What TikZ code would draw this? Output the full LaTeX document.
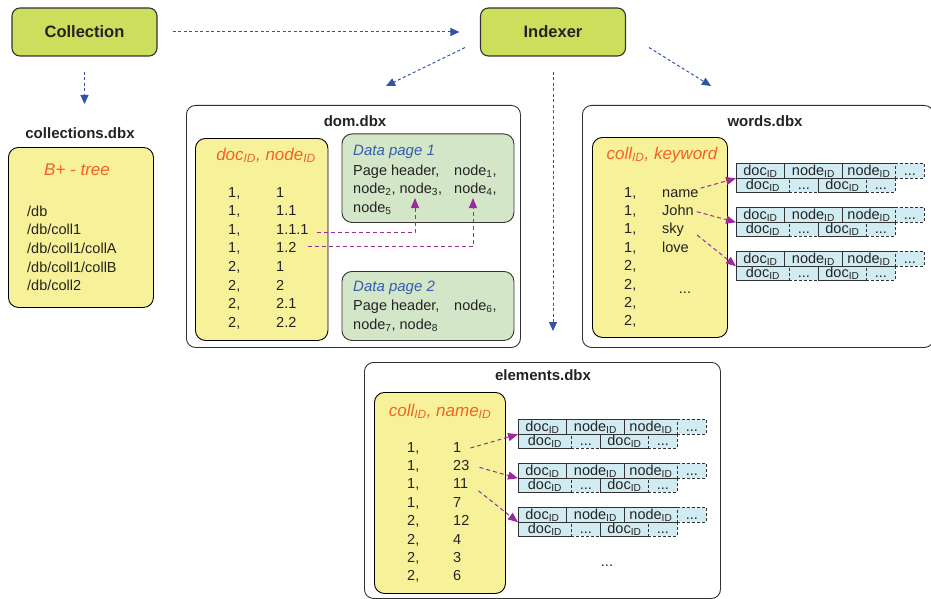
\documentclass[tikz,border=0pt]{standalone}
\usepackage{fontspec}
\setmainfont{Liberation Sans}
\usetikzlibrary{arrows.meta,calc}

\definecolor{lime}{RGB}{205,221,92}
\definecolor{lemon}{RGB}{247,242,153}
\definecolor{mint}{RGB}{211,231,200}
\definecolor{icecyan}{RGB}{208,235,242}
\definecolor{flowblue}{RGB}{52,82,168}
\definecolor{plum}{RGB}{155,42,155}
\definecolor{keyorange}{RGB}{242,98,40}
\definecolor{pageblue}{RGB}{52,92,178}
\definecolor{ink}{RGB}{35,35,35}
\definecolor{edgegray}{RGB}{50,50,50}

\newcommand\subtext[1]{\textsubscript{#1}}

\tikzset{
  topbox/.style={draw=edgegray, fill=lime, rounded corners=8pt, line width=1.1pt,
    minimum width=145pt, minimum height=48pt, text=ink,
    font=\fontsize{16.5}{20}\selectfont\bfseries},
  outerbox/.style={draw=edgegray, fill=white, rounded corners=9pt, line width=0.9pt,
    anchor=north west, inner sep=0pt},
  indexbox/.style={draw=black, fill=lemon, rounded corners=10pt, line width=0.9pt,
    anchor=north west, inner sep=0pt},
  pagebox/.style={draw=edgegray, fill=mint, rounded corners=10pt, line width=0.9pt,
    anchor=north west, inner sep=0pt},
  filetitle/.style={anchor=base, inner sep=0pt, text=ink,
    font=\fontsize{15}{18}\selectfont\bfseries},
  keyhead/.style={anchor=base, inner sep=0pt, text=keyorange,
    font=\fontsize{17}{20}\selectfont\itshape},
  pagehead/.style={anchor=base west, inner sep=0pt, text=pageblue,
    font=\fontsize{15}{18}\selectfont\itshape},
  body/.style={anchor=base west, inner sep=0pt, text=ink,
    font=\fontsize{14.5}{18}\selectfont},
  cell/.style={draw=edgegray, fill=icecyan, line width=0.8pt, anchor=north west,
    inner sep=0pt, minimum height=14.5pt, text height=11pt, text depth=2pt,
    text=ink, font=\fontsize{14.5}{15}\selectfont},
  dcell/.style={cell, dash pattern=on 3pt off 2pt},
  flow/.style={draw=flowblue, line width=1pt, dash pattern=on 3pt off 2.5pt,
    -{Triangle[length=9pt,width=8pt]}},
  link/.style={draw=plum, line width=1pt, dash pattern=on 4pt off 3pt,
    -{Triangle[length=10pt,width=8pt]}},
  recblock/.pic={
    % second row of the posting list
    \node[cell, minimum width=53pt] (-b1) at (0,14.5) {doc\subtext{ID}};
    \node[cell, minimum width=48pt] (-b3) at (82,14.5) {doc\subtext{ID}};
    \node[dcell, minimum width=29pt] (-b2) at (53,14.5) {...};
    \node[dcell, minimum width=29pt] (-b4) at (130,14.5) {...};
    % first row of the posting list
    \node[cell, minimum width=48pt] (-a1) at (0,0) {doc\subtext{ID}};
    \node[cell, minimum width=58pt] (-a2) at (48,0) {node\subtext{ID}};
    \node[cell, minimum width=53pt] (-a3) at (106,0) {node\subtext{ID}};
    \node[dcell, minimum width=29pt] (-a4) at (159,0) {...};
  }
}

\begin{document}
\begin{tikzpicture}[x=1pt, y=-1pt]
\useasboundingbox (0,0) rectangle (931,599);

% ---------- top level components ----------
\node[topbox] (coll) at (84.5,32) {Collection};
\node[topbox] (idx) at (553,32) {Indexer};

% ---------- file containers ----------
\node[outerbox, minimum width=334pt, minimum height=242pt] (dombox) at (186,105) {};
\node[outerbox, minimum width=351pt, minimum height=242pt] (wordsbox) at (582,105) {};
\node[outerbox, minimum width=356pt, minimum height=236pt] (elembox) at (364,362) {};

\node[filetitle] (colltitle) at (80,138.5) {collections.dbx};
\node[filetitle] (domtitle) at (355,126.5) {dom.dbx};
\node[filetitle] (wordstitle) at (765,126.5) {words.dbx};
\node[filetitle] (elemtitle) at (543,380.5) {elements.dbx};

% ---------- flow arrows ----------
\coordinate (collfoot) at (84.5,104);
\coordinate (domin) at (386,86);
\coordinate (elemin) at (553,331);
\coordinate (wordsin) at (711,86);
\draw[flow] ([xshift=15pt]coll.east) -- ([xshift=-20.5pt]idx.west);
\draw[flow] ([shift={(0,15)}]coll.south) -- (collfoot);
\draw[flow] ([shift={(-15,-9)}]idx.south west) -- (domin);
\draw[flow] ([shift={(0,15)}]idx.south) -- (elemin);
\draw[flow] ([shift={(23,-9)}]idx.south east) -- (wordsin);

% ---------- collections.dbx ----------
\node[indexbox, minimum width=145pt, minimum height=160pt] (collidx) at (8,147) {};
\node[keyhead] (btree) at (77,175) {B+ - tree};
\foreach \p [count=\i] in {/db,/db/coll1,/db/coll1/collA,/db/coll1/collB,/db/coll2}
  \node[body] (cp\i) at (27,{216+18.7*(\i-1)}) {\p};

% ---------- dom.dbx ----------
\node[indexbox, minimum width=132.5pt, minimum height=202pt] (domidx) at (195,138) {};
\node[keyhead] (domkey) at (266,160) {doc\subtext{ID}, node\subtext{ID}};
\foreach \d/\n [count=\i] in {1/1,1/1.1,1/1.1.1,1/1.2,2/1,2/2,2/2.1,2/2.2} {
  \node[body] (dd\i) at (228,{197+18.6*(\i-1)}) {\d,};
  \node[body] (dn\i) at (276,{197+18.6*(\i-1)}) {\n};
}

\node[pagebox, minimum width=172pt, minimum height=88.5pt] (page1) at (341.5,133.5) {};
\node[pagehead] (p1head) at (353,155.5) {Data page 1};
\node[body] (p1a) at (353,175) {Page header,};
\node[body] (p1b) at (454,175) {node\subtext{1},};
\node[body] (p1c) at (353,193.5) {node\subtext{2}, node\subtext{3},};
\node[body] (p1d) at (454,193.5) {node\subtext{4},};
\node[body] (p1e) at (353,212) {node\subtext{5}};

\node[pagebox, minimum width=172pt, minimum height=69pt] (page2) at (341.5,271) {};
\node[pagehead] (p2head) at (353,291) {Data page 2};
\node[body] (p2a) at (353,310) {Page header,};
\node[body] (p2b) at (454,310) {node\subtext{6},};
\node[body] (p2c) at (353,329) {node\subtext{7}, node\subtext{8}};

\coordinate (node3tip) at (415,198);
\coordinate (node4tip) at (473,198);
\draw[link] ([shift={(8,3)}]dn3.east) -| (node3tip);
\draw[link] ([shift={(11,-1)}]dn4.east) -| (node4tip);

% ---------- words.dbx ----------
\node[indexbox, minimum width=135pt, minimum height=200pt] (wordsidx) at (592,137) {};
\node[keyhead] (wordskey) at (662,159) {coll\subtext{ID}, keyword};
\foreach \k [count=\i] in {1,1,1,1,2,2,2,2}
  \node[body] (wk\i) at (624,{197+18.4*(\i-1)}) {\k,};
\foreach \w [count=\i] in {name,John,sky,love}
  \node[body] (ww\i) at (662,{197+18.4*(\i-1)}) {\w};
\node[body, anchor=base] (wmore) at (685,293) {...};

\pic (w1) at (736,163) {recblock};
\pic (w2) at (736,207) {recblock};
\pic (w3) at (736,251) {recblock};

\draw[link] ([shift={(2,-5)}]ww1.east) -- (w1-a1.south west);
\draw[link] ([shift={(3,1.5)}]ww2.east) -- (w2-a1.south west);
\draw[link] ([shift={(13,5)}]ww3.east) -- (w3-a1.south west);

% ---------- elements.dbx ----------
\node[indexbox, minimum width=131pt, minimum height=201pt] (elemidx) at (374,392) {};
\node[keyhead] (elemkey) at (440,416) {coll\subtext{ID}, name\subtext{ID}};
\foreach \c/\n [count=\i] in {1/1,1/23,1/11,1/7,2/12,2/4,2/3,2/6} {
  \node[body] (ec\i) at (407,{452+18.4*(\i-1)}) {\c,};
  \node[body] (en\i) at (453,{452+18.4*(\i-1)}) {\n};
}
\node[body, anchor=base] (emore) at (607,566) {...};

\pic (e1) at (518,419) {recblock};
\pic (e2) at (518,463) {recblock};
\pic (e3) at (518,507) {recblock};

\draw[link] ([shift={(9,1)}]en1.east) -- (e1-a1.south west);
\draw[link] ([shift={(10,2)}]en2.east) -- (e2-a1.south west);
\draw[link] ([shift={(10,7)}]en3.east) -- (e3-a1.south west);
\end{tikzpicture}
\end{document}
